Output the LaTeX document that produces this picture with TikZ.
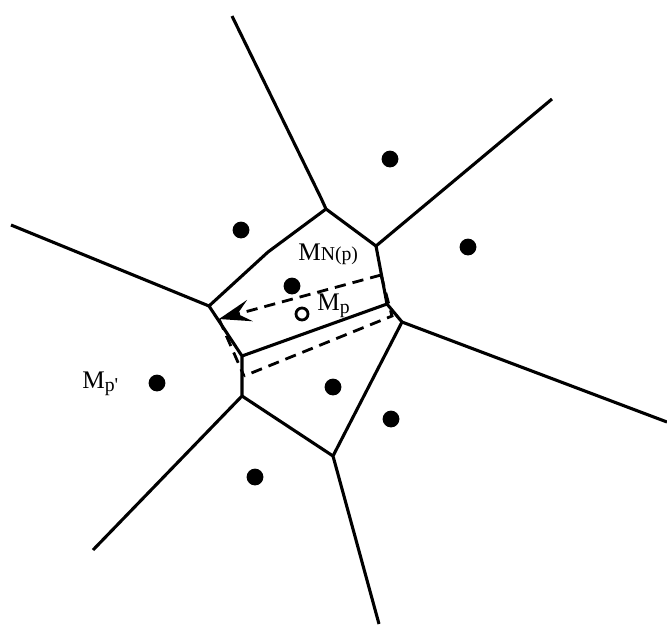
\documentclass[tikz,border=0pt]{standalone}
\usepackage{fontspec}
\setmainfont{Liberation Serif}
\usetikzlibrary{arrows.meta}
\tikzset{
  arista/.style={line width=2.2pt, line join=round},
  banda/.style={line width=2pt, dash pattern=on 8pt off 5pt},
  sitio/.style={circle, fill=black, inner sep=0pt, minimum size=0.42cm},
  punto/.style={circle, draw=black, line width=2pt, inner sep=0pt, minimum size=0.3cm},
  etiqueta/.style={inner sep=0pt, font=\fontsize{18}{21}\selectfont},
  sub/.style={font=\fontsize{14}{16}\selectfont}
}
\newcommand{\subind}[1]{{\fontsize{14}{16}\selectfont #1}}
\begin{document}
\begin{tikzpicture}[x=0.025cm, y=-0.025cm]
        \useasboundingbox (0,0) rectangle (667,627);

        % Vertices del diagrama
        \coordinate (A) at (326,209);
        \coordinate (B) at (376,246);
        \coordinate (C) at (209,306);
        \coordinate (E) at (242,356);
        \coordinate (D) at (242,396);
        \coordinate (F) at (387,304);
        \coordinate (H) at (402,322);
        \coordinate (G) at (333,456);
        \coordinate (Ac) at (268,252);
        \coordinate (At) at (321,198);

        % Extremos exteriores
        \coordinate (top) at (232,16);
        \coordinate (topder) at (552,99);
        \coordinate (izq) at (11,225);
        \coordinate (der) at (667,422);
        \coordinate (abizq) at (93,550);
        \coordinate (abajo) at (379,624);

        % Aristas
        \draw[arista] (top) -- (At) -- (A) -- (B) -- (topder);
        \draw[arista] (A) -- (Ac) -- (C) -- (izq);
        \draw[arista] (C) -- (E) -- (D) -- (abizq);
        \draw[arista] (B) -- (F) -- (H) -- (der);
        \draw[arista] (H) -- (G) -- (abajo);
        \draw[arista] (D) -- (G);
        \draw[arista] (E) -- (F);

        % Banda discontinua
        \coordinate (q1) at (381,275);
        \coordinate (q2) at (392,316);
        \coordinate (q3) at (244,376);
        \coordinate (q4) at (219,319);
        \draw[banda] (q1) -- (q2) -- (q3);
        \draw[banda] (q4) -- (q3);
        \draw[banda, -{Stealth[length=0.8cm, width=0.55cm, inset=0.32cm]}] (q1) -- (q4);

        % Sitios
        \node[sitio] (s1) at (390,159) {};
        \node[sitio] (s2) at (241,230) {};
        \node[sitio] (s3) at (468,247) {};
        \node[sitio] (s4) at (292,286) {};
        \node[sitio] (s5) at (157,383) {};
        \node[sitio] (s6) at (333,387) {};
        \node[sitio] (s7) at (391,419) {};
        \node[sitio] (s8) at (255,477) {};
        \node[punto] (p) at (302,314) {};

        % Etiquetas
        \node[etiqueta, anchor=west] (lNp) at (298,254) {M\subind{N(p)}};
        \node[etiqueta, anchor=west] (lp) at (317,306) {M\raisebox{-2pt}{\subind{p}}};
        \node[etiqueta, anchor=west] (lpp) at (82,384) {M\raisebox{-2pt}{\subind{p\textquotesingle}}};
\end{tikzpicture}
\end{document}
